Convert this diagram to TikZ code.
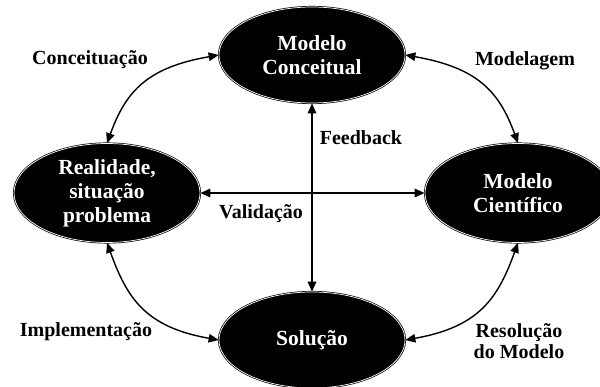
\documentclass[tikz,border=0pt]{standalone}
\usepackage{fontspec}
\setmainfont{Liberation Serif}
\usetikzlibrary{shapes.geometric,arrows.meta}
\begin{document}
\begin{tikzpicture}[x=1pt,y=-1pt,
  stage/.style={ellipse, fill=black, draw=black, double=white, double distance=0.7pt, line width=0.7pt,
    minimum width=186pt, inner sep=0pt, text=white, align=center,
    font=\fontsize{21.5}{24}\selectfont\bfseries},
  lab/.style={text=black, align=center, inner sep=0pt, font=\fontsize{20}{21.5}\selectfont\bfseries},
  conn/.style={line width=1.4pt, {Triangle[length=10pt,width=8.5pt]}-{Triangle[length=10pt,width=8.5pt]}}
]
\useasboundingbox (0,0) rectangle (600,387);
\begin{scope}
\clip (0,0) rectangle (600,387);
\node[stage, minimum height=96pt] (top) at (312,55) {Modelo\\Conceitual};
\node[stage, minimum height=99pt] (left) at (107,193) {Realidade,\\situação\\problema};
\node[stage, minimum height=99pt] (right) at (518,193) {Modelo\\Científico};
\node[stage, minimum height=96pt] (bot) at (312,340) {Solução};
\end{scope}

\draw[conn] (left.north) to[out=70,in=190,out looseness=1,in looseness=1.3] (top.west);
\draw[conn] (right.north) to[out=110,in=-10,out looseness=1,in looseness=1.3] (top.east);
\draw[conn] (left.south) to[out=-70,in=170,out looseness=1,in looseness=1.3] (bot.west);
\draw[conn] (right.south) to[out=-110,in=10,out looseness=1,in looseness=1.3] (bot.east);
\draw[conn] (left.east) -- (right.west);
\draw[conn] (top.south) -- (bot.north);

\node[lab, anchor=base] (l1) at (90,65) {Conceituação};
\node[lab, anchor=base] (l2) at (525,66) {Modelagem};
\node[lab, anchor=base] (l3) at (361,145) {Feedback};
\node[lab, anchor=base] (l4) at (261,219) {Validação};
\node[lab, anchor=base] (l5) at (86,337) {Implementação};
\node[lab] (l6) at (519,341) {Resolução\\do Modelo};
\end{tikzpicture}
\end{document}
